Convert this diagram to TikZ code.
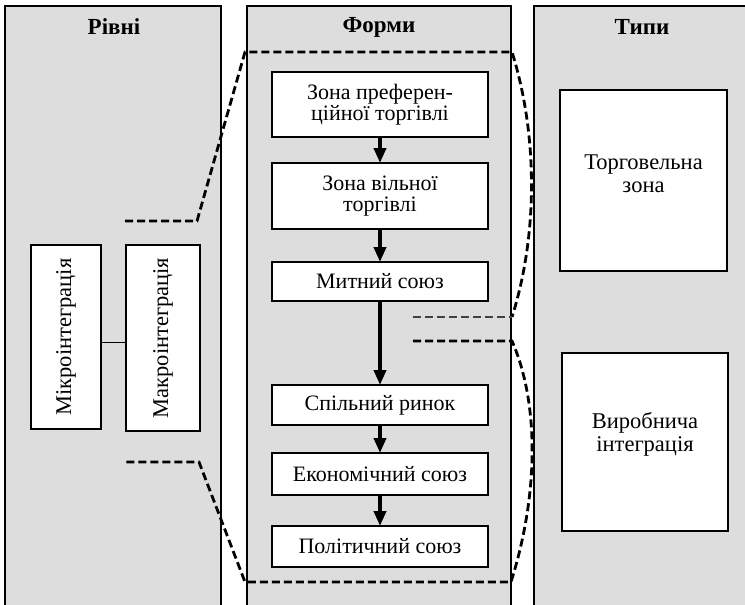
\documentclass[tikz,border=0pt]{standalone}
\usepackage{fontspec}
\setmainfont{Liberation Serif}
\usetikzlibrary{arrows.meta}
\definecolor{panelgray}{RGB}{221,221,221}
\begin{document}
\begin{tikzpicture}[x=1pt,y=-1pt,
  panel/.style={draw=black,line width=1.6pt,fill=panelgray,anchor=north west,inner sep=0pt,outer sep=0pt},
  box/.style={draw=black,line width=1.6pt,fill=white,inner sep=0pt,outer sep=0pt,align=center,font=\fontsize{22}{21.5}\selectfont},
  lbl/.style={inner sep=0pt,align=center,font=\fontsize{22.5}{23}\selectfont},
  ttl/.style={inner sep=0pt,font=\fontsize{23}{22}\selectfont\bfseries},
  flow/.style={line width=4pt,-{Triangle[width=12pt,length=15pt]}},
  zoomline/.style={line width=2.8pt,dash pattern=on 8pt off 4pt},
  thinzoom/.style={line width=1.6pt,dash pattern=on 8pt off 4pt,draw=black!75},
  link/.style={line width=1pt}
]
\useasboundingbox (0,0) rectangle (745,605);
\clip (0,0) rectangle (745,605);
% panels
\node[panel,minimum width=216pt,minimum height=620pt] (pL) at (5,6) {};
\node[panel,minimum width=264pt,minimum height=620pt] (pM) at (247,6) {};
\node[panel,minimum width=230pt,minimum height=620pt] (pR) at (534,6) {};
% titles
\node[ttl] (tL) at (114,27) {Рівні};
\node[ttl] (tM) at (379,27) {Форми};
\node[ttl] (tR) at (642,27) {Типи};
% forms
\node[box,minimum width=216pt,minimum height=65pt] (f1) at (380,104.5) {Зона преферен-\\ційної торгівлі};
\node[box,minimum width=216pt,minimum height=66pt] (f2) at (380,196) {Зона вільної\\торгівлі};
\node[box,minimum width=216pt,minimum height=39pt] (f3) at (380,281.5) {Митний союз};
\node[box,minimum width=216pt,minimum height=40pt] (f4) at (380,405) {Спільний ринок};
\node[box,minimum width=216pt,minimum height=42pt] (f5) at (380,474) {Економічний союз};
\node[box,minimum width=216pt,minimum height=41pt] (f6) at (380,546.5) {Політичний союз};
\draw[flow] (f1.south) -- (f2.north);
\draw[flow] (f2.south) -- (f3.north);
\draw[flow] (f3.south) -- (f4.north);
\draw[flow] (f4.south) -- (f5.north);
\draw[flow] (f5.south) -- (f6.north);
% levels
\node[box,minimum width=70pt,minimum height=184pt] (micro) at (66,337) {};
\node[lbl,rotate=90] (microT) at (micro.center) {Мікроінтеграція};
\node[box,minimum width=74pt,minimum height=186pt] (macro) at (163,338) {};
\node[lbl,rotate=90] (macroT) at (macro.center) {Макроінтеграція};
\coordinate (cl) at (0,342);
\draw[link] (micro.east |- cl) -- (macro.west |- cl);
% types
\node[box,minimum width=167pt,minimum height=181pt] (trade) at (643.5,180.5) {};
\node[lbl] (tradeT) at (643.5,174) {Торговельна\\зона};
\node[box,minimum width=166pt,minimum height=178pt] (prod) at (645,442) {};
\node[lbl] (prodT) at (645,434) {Виробнича\\інтеграція};
% dashed zoom outline
\coordinate (a1) at (125,221);
\coordinate (a2) at (197,221);
\coordinate (a3) at (245,52);
\coordinate (a4) at (512,52);
\coordinate (a5) at (512,317);
\coordinate (a6) at (413,317);
\coordinate (b1) at (413,341);
\coordinate (b2) at (512,341);
\coordinate (b3) at (511,582);
\coordinate (b4) at (245,582);
\coordinate (b5) at (199,462);
\coordinate (b6) at (125,462);
\draw[zoomline] (a1) -- (a2) -- (a3) -- (a4) .. controls (538,135) and (538,235) .. (a5);
\draw[thinzoom] (a6) -- (a5);
\draw[zoomline] (b1) -- (b2) .. controls (538,400) and (540,490) .. (b3) -- (b4) -- (b5) -- (b6);
\end{tikzpicture}
\end{document}
